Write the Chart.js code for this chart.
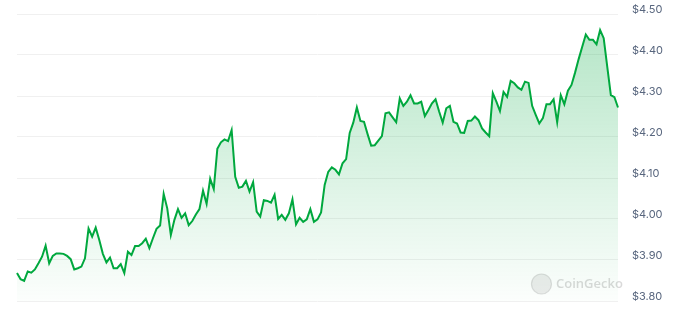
<!DOCTYPE html>
<html>
<head>
<meta charset="utf-8">
<script src="https://cdn.jsdelivr.net/npm/chart.js@4/dist/chart.umd.min.js"></script>
<style>
  html, body { margin: 0; padding: 0; background: #ffffff; }
  #wrap { width: 679px; height: 318px; position: relative; }
</style>
</head>
<body>
<div id="wrap"><canvas id="c" width="679" height="318"></canvas></div>
<script>
// Price series (USD), hourly over ~7 days
const prices = [
  3.868, 3.853, 3.849, 3.872, 3.869, 3.877, 3.892, 3.908, 3.935, 3.892,
  3.910, 3.916, 3.916, 3.915, 3.910, 3.902, 3.877, 3.880, 3.884, 3.904,
  3.977, 3.957, 3.979, 3.949, 3.915, 3.894, 3.906, 3.880, 3.880, 3.890,
  3.868, 3.920, 3.912, 3.934, 3.934, 3.941, 3.952, 3.929, 3.953, 3.976,
  3.984, 4.061, 4.026, 3.961, 3.998, 4.024, 4.003, 4.014, 3.985, 3.995,
  4.011, 4.024, 4.069, 4.037, 4.098, 4.073, 4.171, 4.187, 4.194, 4.190,
  4.217, 4.103, 4.076, 4.079, 4.093, 4.067, 4.090, 4.018, 4.006, 4.046,
  4.044, 4.040, 4.059, 4.000, 4.010, 3.998, 4.014, 4.048, 3.987, 4.003,
  3.993, 3.999, 4.024, 3.993, 3.999, 4.016, 4.083, 4.115, 4.126, 4.120,
  4.109, 4.136, 4.146, 4.210, 4.235, 4.272, 4.239, 4.237, 4.207, 4.179,
  4.180, 4.191, 4.202, 4.258, 4.260, 4.248, 4.236, 4.294, 4.276, 4.286,
  4.302, 4.282, 4.282, 4.286, 4.251, 4.266, 4.282, 4.292, 4.262, 4.235,
  4.270, 4.276, 4.237, 4.233, 4.211, 4.210, 4.239, 4.240, 4.250, 4.241,
  4.221, 4.211, 4.202, 4.307, 4.286, 4.263, 4.310, 4.298, 4.337, 4.331,
  4.321, 4.315, 4.335, 4.332, 4.276, 4.254, 4.233, 4.246, 4.280, 4.280,
  4.292, 4.236, 4.302, 4.280, 4.313, 4.327, 4.357, 4.390, 4.420, 4.450,
  4.437, 4.437, 4.426, 4.461, 4.441, 4.371, 4.302, 4.297, 4.272
];
// Hour indices used as category labels (x axis hidden)
const hours = prices.map((_, i) => i);
// Y-axis tick values
const yTicks = [3.80, 3.90, 4.00, 4.10, 4.20, 4.30, 4.40, 4.50];

const ctx = document.getElementById('c').getContext('2d');

const watermark = {
  id: 'watermark',
  beforeDatasetsDraw(chart) {
    const c = chart.ctx;
    c.save();
    c.fillStyle = 'rgba(200,200,200,0.35)';
    c.strokeStyle = 'rgba(190,190,190,0.5)';
    c.lineWidth = 1.2;
    c.beginPath();
    c.arc(541.5, 284, 10, 0, Math.PI * 2);
    c.fill();
    c.stroke();
    c.fillStyle = 'rgba(185,185,185,0.55)';
    c.font = '600 13px "Open Sans", "Noto Sans", sans-serif';
    c.textBaseline = 'middle';
    c.fillText('CoinGecko', 556, 284.5);
    c.restore();
  }
};

new Chart(ctx, {
  type: 'line',
  data: {
    labels: hours,
    datasets: [{
      data: prices,
      borderColor: '#00a83e',
      borderWidth: 2,
      pointRadius: 0,
      tension: 0,
      fill: 'start',
      backgroundColor: (context) => {
        const chart = context.chart;
        const area = chart.chartArea;
        if (!area) return 'rgba(0,168,62,0.15)';
        const g = chart.ctx.createLinearGradient(0, area.top, 0, area.bottom);
        g.addColorStop(0, 'rgba(0,168,62,0.30)');
        g.addColorStop(1, 'rgba(0,168,62,0.01)');
        return g;
      }
    }]
  },
  options: {
    responsive: false,
    animation: false,
    events: [],
    layout: { padding: { top: 14, bottom: 17, left: 17, right: 0 } },
    plugins: { legend: { display: false }, tooltip: { enabled: false } },
    scales: {
      x: { display: false, offset: false },
      y: {
        position: 'right',
        min: 3.8,
        max: 4.5,
        afterBuildTicks: (scale) => { scale.ticks = yTicks.map(v => ({ value: v })); },
        afterFit: (scale) => { scale.width = 61; scale.paddingTop = 0; scale.paddingBottom = 0; },
        border: { display: false },
        grid: { color: '#f0f0f0', lineWidth: 1, drawTicks: false },
        ticks: {
          padding: 14,
          labelOffset: -4,
          color: '#58667e',
          font: { family: 'Inter, "Noto Sans", sans-serif', size: 11 },
          callback: (v) => '$' + Number(v).toFixed(2)
        }
      }
    }
  },
  plugins: [watermark]
});
</script>
</body>
</html>
